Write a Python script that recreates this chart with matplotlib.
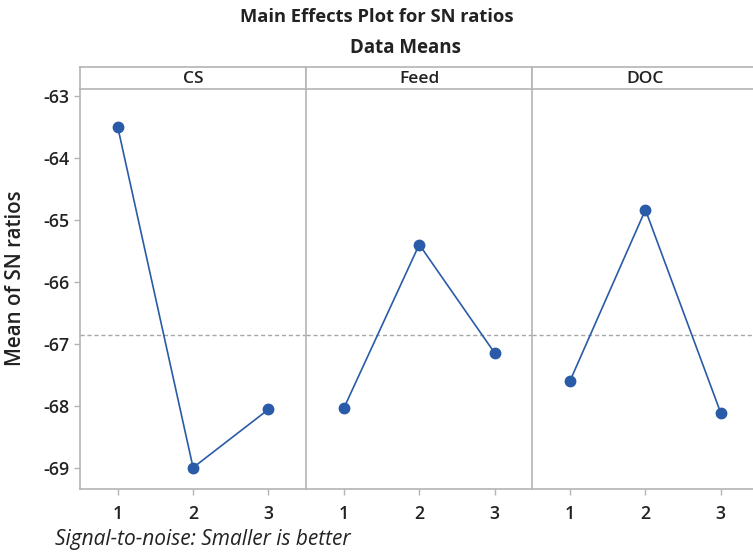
import numpy as np
import matplotlib.pyplot as plt

plt.rcParams['font.family'] = ['Open Sans', 'DejaVu Sans']
plt.rcParams['axes.unicode_minus'] = False

factors = ['CS', 'Feed', 'DOC']
levels = [1, 2, 3]
cs_sn = [-63.50, -69.00, -68.06]
feed_sn = [-68.04, -65.40, -67.15]
doc_sn = [-67.60, -64.84, -68.12]
yticks = [-63, -64, -65, -66, -67, -68, -69]

series = [cs_sn, feed_sn, doc_sn]
grand_mean = np.mean(cs_sn + feed_sn + doc_sn)

W, H = 753, 555
fig = plt.figure(figsize=(W/100, H/100), dpi=100)

gray = '#b4b4b4'
blue = '#2a5ba8'
left, right = 80, 758.5
bottom, top = 489.3, 89
strip_top = 66.7
pw = (right - left) / 3

for i, (name, vals) in enumerate(zip(factors, series)):
    x0 = left + i*pw
    ax = fig.add_axes([x0/W, 1 - bottom/H, pw/W, (bottom - top)/H])
    ax.plot(levels, vals, '-', color=blue, lw=1.2, marker='o', ms=7.5, zorder=3)
    ax.axhline(grand_mean, color='#a8a8a8', ls=(0, (3, 2)), lw=1)
    ax.set_xlim(0.5, 3.5)
    ax.set_ylim(-69.35, -62.89)
    ax.set_xticks(levels)
    ax.set_yticks(yticks)
    ax.tick_params(colors=gray, labelcolor='#222222', labelsize=12.8, length=4, width=1)
    ax.tick_params(axis='x', pad=7)
    for lab in ax.get_xticklabels() + ax.get_yticklabels():
        lab.set_fontweight('semibold')
    for s in ['top', 'right']:
        ax.spines[s].set_visible(False)
    for s in ['left', 'bottom']:
        ax.spines[s].set_color(gray)
        ax.spines[s].set_linewidth(1.2)
    if i > 0:
        ax.tick_params(axis='y', left=False, labelleft=False)
    # strip header
    sx = fig.add_axes([x0/W, 1 - top/H, pw/W, (top - strip_top)/H])
    sx.set_xticks([])
    sx.set_yticks([])
    for s in sx.spines.values():
        s.set_color(gray)
        s.set_linewidth(1.2)
    sx.text(0.5, 0.45, name, ha='center', va='center', fontsize=12.5,
            fontweight='semibold', color='#222222', transform=sx.transAxes)

fig.text(376.5/W, 1 - 17/H, 'Main Effects Plot for SN ratios', ha='center', va='center',
         fontsize=13.2, fontweight='bold', color='#222222')
fig.text(405/W, 1 - 48/H, 'Data Means', ha='center', va='center',
         fontsize=13.5, fontweight='bold', color='#222222')
fig.text(16/W, 1 - 278/H, 'Mean of SN ratios', ha='center', va='center', rotation=90,
         fontsize=14.8, fontweight='semibold', color='#222222')
fig.text(55/W, 1 - 540/H, 'Signal-to-noise: Smaller is better', ha='left', va='center',
         fontsize=15, style='italic', color='#222222')

fig.savefig('out.png', dpi=100)
